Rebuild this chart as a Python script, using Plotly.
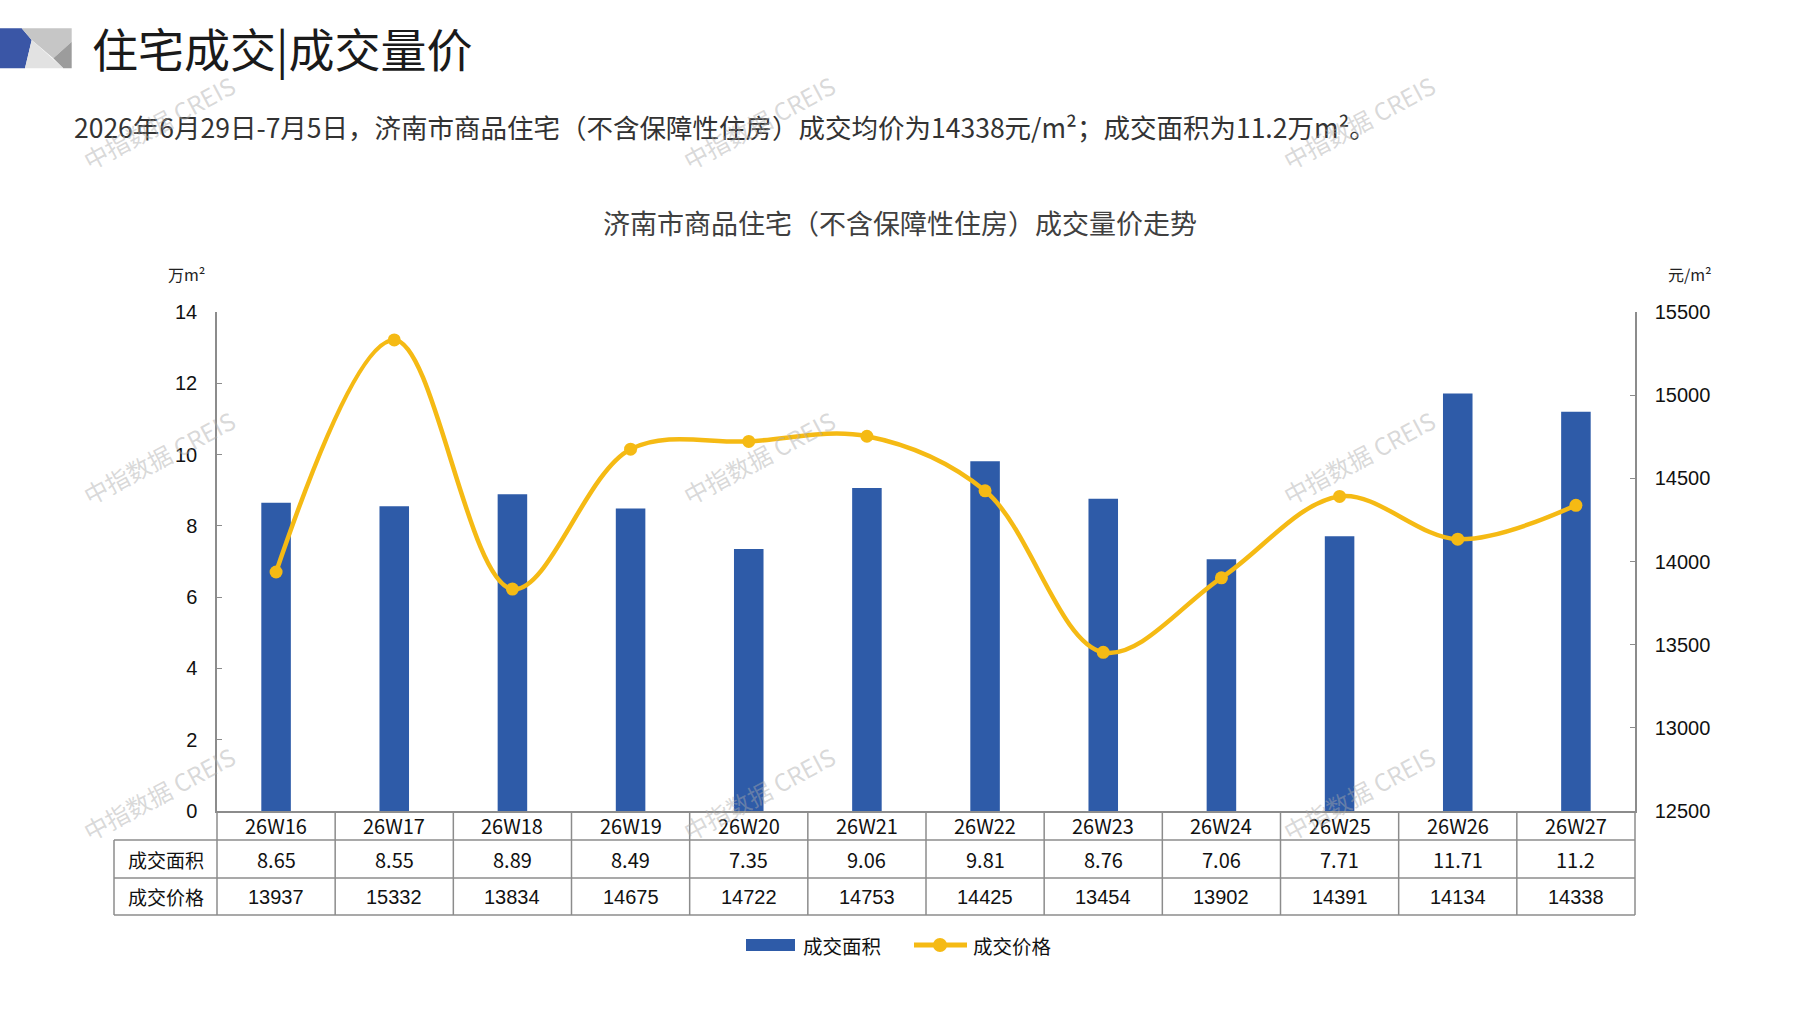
import plotly.graph_objects as go

# ---------------- data ----------------
weeks = ["26W16", "26W17", "26W18", "26W19", "26W20", "26W21",
         "26W22", "26W23", "26W24", "26W25", "26W26", "26W27"]
area = [8.65, 8.55, 8.89, 8.49, 7.35, 9.06, 9.81, 8.76, 7.06, 7.71, 11.71, 11.2]
price = [13937, 15332, 13834, 14675, 14722, 14753, 14425, 13454, 13902, 14391, 14134, 14338]
left_ticks = [0, 2, 4, 6, 8, 10, 12, 14]
right_ticks = [12500, 13000, 13500, 14000, 14500, 15000, 15500]
area_name = "成交面积"
price_name = "成交价格"

# ---------------- style ----------------
W, H = 1797, 1010
L, R, T, B = 217, 1635, 312, 811
BLUE = "#2E5BA8"
YELLOW = "#F5BA14"
GRID = "#8C8C8C"
CJK = "Noto Sans CJK SC"
NUM = "Liberation Sans, Arial, sans-serif"


def px(x):
    return (x - L) / (R - L)


def py(y):
    return (B - y) / (B - T)


fig = go.Figure()
fig.add_trace(go.Bar(x=weeks, y=area, name=area_name, width=0.25,
                     marker=dict(color=BLUE, line=dict(width=0)), yaxis="y"))
fig.add_trace(go.Scatter(x=weeks, y=price, name=price_name, yaxis="y2",
                         mode="lines+markers",
                         line=dict(color=YELLOW, width=4.5, shape="spline", smoothing=1.0),
                         marker=dict(color=YELLOW, size=13)))

shapes = []
annotations = []

# logo
def poly(pts, color):
    d = "M " + " L ".join(f"{px(x):.5f},{py(y):.5f}" for x, y in pts) + " Z"
    shapes.append(dict(type="path", xref="paper", yref="paper", path=d,
                       fillcolor=color, line=dict(width=0), layer="above"))

poly([(0, 28.3), (21.7, 28.3), (31.7, 40), (25, 68.3), (0, 68.3)], "#3A56A6")
poly([(21.7, 28.3), (71.7, 28.3), (71.7, 41.7), (53.3, 58.3), (31.7, 40)], "#C6C6C6")
poly([(53.3, 58.3), (71.7, 41.7), (71.7, 68.3), (63.3, 68.3)], "#9C9C9C")
poly([(31.7, 40), (63.3, 68.3), (25, 68.3)], "#E2E2E2")

# titles
annotations.append(dict(text="住宅成交|成交量价", x=px(90), y=py(47), xref="paper", yref="paper",
                        xanchor="left", yanchor="middle", showarrow=False,
                        font=dict(family=CJK, size=46, color="#1A1A1A")))
subtitle = (f"2026年6月29日-7月5日，济南市商品住宅（不含保障性住房）成交均价为{price[-1]}元/m²；"
            f"成交面积为{area[-1]}万m²。")
annotations.append(dict(text=subtitle, x=px(72), y=py(127), xref="paper", yref="paper",
                        xanchor="left", yanchor="middle", showarrow=False,
                        font=dict(family=CJK, size=26.5, color="#333333")))
annotations.append(dict(text="济南市商品住宅（不含保障性住房）成交量价走势", x=px(900), y=py(223),
                        xref="paper", yref="paper", xanchor="center", yanchor="middle",
                        showarrow=False, font=dict(family=CJK, size=27, color="#404040")))
annotations.append(dict(text="万m²", x=px(186), y=py(274), xref="paper", yref="paper",
                        xanchor="center", yanchor="middle", showarrow=False,
                        font=dict(family=CJK, size=16, color="#222222")))
annotations.append(dict(text="元/m²", x=px(1690), y=py(274), xref="paper", yref="paper",
                        xanchor="center", yanchor="middle", showarrow=False,
                        font=dict(family=CJK, size=16, color="#222222")))

# table
n = len(weeks)
row_y = [811, 840, 878, 915]
tbl_left = 114
for yy in row_y[1:]:
    shapes.append(dict(type="line", xref="paper", yref="paper", x0=px(tbl_left), x1=1,
                       y0=py(yy), y1=py(yy), line=dict(color=GRID, width=1.5)))
for i in range(n + 1):
    shapes.append(dict(type="line", xref="paper", yref="paper", x0=i / n, x1=i / n,
                       y0=py(row_y[0]), y1=py(row_y[-1]), line=dict(color=GRID, width=1.5)))
shapes.append(dict(type="line", xref="paper", yref="paper", x0=px(tbl_left), x1=px(tbl_left),
                   y0=py(row_y[1]), y1=py(row_y[-1]), line=dict(color=GRID, width=1.5)))

rows = [(weeks, CJK), ([str(a) for a in area], CJK), ([str(p) for p in price], NUM)]
for r, (vals, fam) in enumerate(rows):
    yc = py((row_y[r] + row_y[r + 1]) / 2)
    for i, v in enumerate(vals):
        annotations.append(dict(text=v, x=(i + 0.5) / n, y=yc, xref="paper", yref="paper",
                                xanchor="center", yanchor="middle", showarrow=False,
                                font=dict(family=fam, size=20, color="#111111")))
for r, lab in [(1, area_name), (2, price_name)]:
    yc = py((row_y[r] + row_y[r + 1]) / 2)
    annotations.append(dict(text=lab, x=px((tbl_left + L) / 2), y=yc, xref="paper", yref="paper",
                            xanchor="center", yanchor="middle", showarrow=False,
                            font=dict(family=CJK, size=19, color="#111111")))

# manual legend
LY = 945
shapes.append(dict(type="rect", xref="paper", yref="paper", x0=px(746), x1=px(795),
                   y0=py(LY + 6), y1=py(LY - 6), fillcolor=BLUE, line=dict(width=0)))
annotations.append(dict(text=area_name, x=px(801), y=py(LY), xref="paper", yref="paper",
                        xanchor="left", yanchor="middle", showarrow=False,
                        font=dict(family=CJK, size=19.5, color="#111111")))
shapes.append(dict(type="line", xref="paper", yref="paper", x0=px(914), x1=px(967),
                   y0=py(LY), y1=py(LY), line=dict(color=YELLOW, width=5)))
shapes.append(dict(type="circle", xref="paper", yref="paper", x0=px(933), x1=px(947),
                   y0=py(LY + 7), y1=py(LY - 7), fillcolor=YELLOW, line=dict(width=0)))
annotations.append(dict(text=price_name, x=px(971), y=py(LY), xref="paper", yref="paper",
                        xanchor="left", yanchor="middle", showarrow=False,
                        font=dict(family=CJK, size=19.5, color="#111111")))

# watermarks
for wy in (122, 457, 793):
    for wx in (158, 758, 1358):
        annotations.append(dict(text="中指数据 CREIS", x=px(wx), y=py(wy), xref="paper",
                                yref="paper", xanchor="center", yanchor="middle",
                                showarrow=False, textangle=-28,
                                font=dict(family=CJK, size=24, color="rgba(170,170,170,0.45)")))

fig.update_layout(
    width=W, height=H,
    margin=dict(l=L, r=W - R, t=T, b=H - B, pad=0),
    paper_bgcolor="white", plot_bgcolor="white",
    showlegend=False,
    bargap=0.75,
    xaxis=dict(type="category", range=[-0.5, n - 0.5], showticklabels=False, ticks="",
               showgrid=False, zeroline=False, showline=True, linecolor=GRID, linewidth=1.5),
    yaxis=dict(range=[0, 14], tickvals=left_ticks, ticks="inside", ticklen=5, tickcolor=GRID,
               showgrid=False, zeroline=False, showline=True, linecolor=GRID, linewidth=1.5,
               tickfont=dict(family=NUM, size=20, color="#111111"), ticklabelstandoff=14),
    yaxis2=dict(range=[12500, 15500], tickvals=right_ticks, tickformat="d", overlaying="y",
                side="right", ticks="inside", ticklen=5, tickcolor=GRID, showgrid=False,
                zeroline=False, showline=True, linecolor=GRID, linewidth=1.5,
                tickfont=dict(family=NUM, size=20, color="#111111"), ticklabelstandoff=14),
    shapes=shapes,
    annotations=annotations,
)

fig.write_html("out.html", config={"displayModeBar": False},
               post_script="document.body.style.margin='0';document.body.style.overflow='hidden';")
